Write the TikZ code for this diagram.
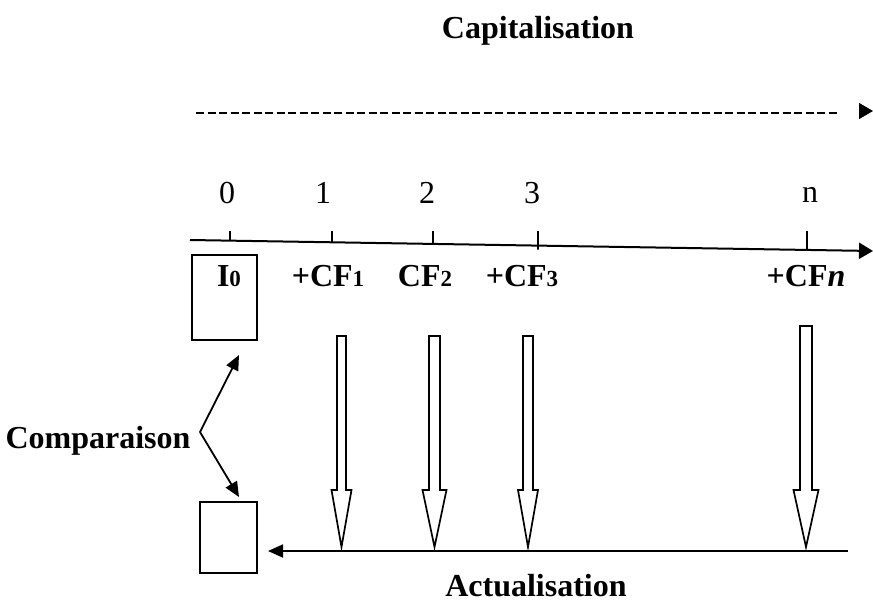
\documentclass[tikz,border=0pt]{standalone}
\usepackage{fontspec}
\setmainfont{Liberation Serif}
\usetikzlibrary{arrows.meta, calc}

\newcommand{\lowdig}[1]{{\fontsize{23}{23}\selectfont #1}}

\begin{document}
\begin{tikzpicture}[
  x=1pt, y=-1pt,
  lbl/.style={font=\fontsize{32}{38}\selectfont\bfseries},
  num/.style={font=\fontsize{32}{38}\selectfont, anchor=base},
  cf/.style={lbl, anchor=base},
  box/.style={draw, line width=2pt, inner sep=0pt},
  axis/.style={line width=2pt, -{Triangle[length=14pt, width=16pt]}},
  tickln/.style={line width=1.6pt},
  dashln/.style={line width=2.6pt, dash pattern=on 8pt off 3.5pt},
  headonly/.style={line width=1pt, -{Triangle[length=14pt, width=16pt]}},
  arr/.style={line width=1.8pt, -{Triangle[length=15pt, width=13pt]}},
  blk/.style={draw, line width=1.7pt, fill=white, line join=miter},
]
  \useasboundingbox (0,0) rectangle (873,605);

  %% Capitalisation (top)
  \node[lbl, anchor=base] (cap) at (538,38) {Capitalisation};
  \coordinate (dstart) at (196,113);
  \coordinate (dend)   at (839,113);
  \coordinate (dtip)   at (873,111);
  \draw[dashln] (dstart) -- (dend);
  \draw[headonly] ([xshift=-14pt]dtip) -- (dtip);

  %% Time axis
  \coordinate (a0)   at (190,240);
  \coordinate (atip) at (873,251);
  \draw[axis] (a0) -- (atip);
  \foreach \xx/\ext in {230/0, 332/0, 433/0, 538/4, 807/0}
    \draw[tickln] (\xx,231) -- ($(a0)!{(\xx-190)/683}!(atip)$) -- ++(0,\ext);

  \node[num] (n0) at (227,203) {0};
  \node[num] (n1) at (323,203) {1};
  \node[num] (n2) at (427,203) {2};
  \node[num] (n3) at (532,203) {3};
  \node[num] (nn) at (810,202) {n};

  %% Cash flows
  \node[box, minimum width=65, minimum height=85] (box0) at (224.5,297.5) {};
  \node[cf] (i0)  at (229,286) {I\lowdig{0}};
  \node[cf] (cf1) at (328,286) {+CF\lowdig{1}};
  \node[cf] (cf2) at (425,286) {CF\lowdig{2}};
  \node[cf] (cf3) at (522,286) {+CF\lowdig{3}};
  \node[cf] (cfn) at (806,286) {+CF\textit{n}};

  %% Block arrows down to the present
  \foreach \xx/\tp/\sw/\hw in {341.5/336/4.5/10, 434.5/336/5.5/12,
                               528/336/5/10, 806/326/6/12.5}
    \draw[blk] ({\xx-\sw},\tp) -- ({\xx+\sw},\tp) -- ({\xx+\sw},490)
      -- ({\xx+\hw},490) -- (\xx,547) -- ({\xx-\hw},490)
      -- ({\xx-\sw},490) -- cycle;

  %% Actualisation (bottom)
  \node[box, minimum width=57, minimum height=71] (box1) at (228.5,537.5) {};
  \coordinate (actend) at (848,551);
  \coordinate (acttip) at (268,551);
  \draw[arr] (actend) -- (acttip);
  \node[lbl, anchor=base, inner sep=1pt] (act) at (536,596) {Actualisation};

  %% Comparaison
  \node[lbl, anchor=base east] (cmp) at (194,448) {Comparaison};
  \coordinate (cmpv)  at (200,432);
  \coordinate (cmpup) at (239,355);
  \coordinate (cmpdn) at (239,497);
  \draw[arr] (cmpv) -- (cmpup);
  \draw[arr] (cmpv) -- (cmpdn);
\end{tikzpicture}
\end{document}
